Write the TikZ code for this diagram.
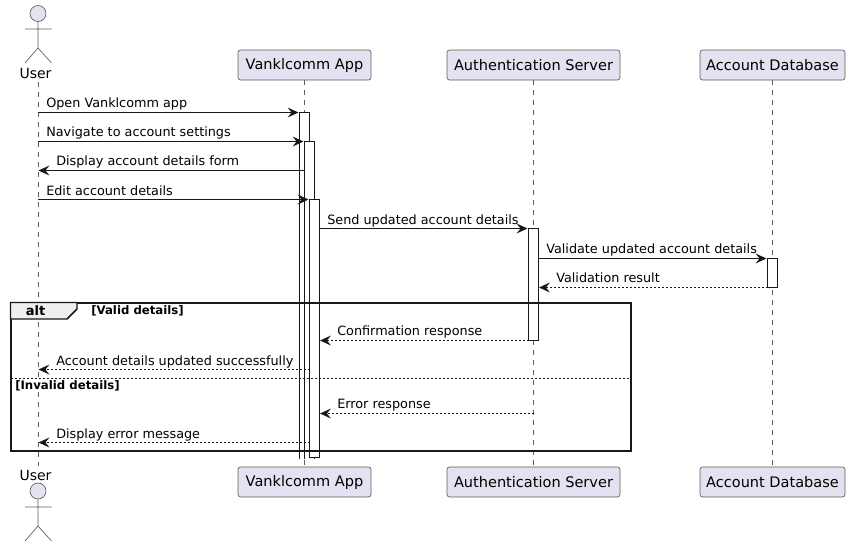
\documentclass[tikz,border=0pt]{standalone}
\usepackage{fontspec}
\usepackage{xcolor}
\usepackage{tikz}
\usetikzlibrary{arrows.meta}
\setmainfont{DejaVu Sans}
\definecolor{headfill}{HTML}{E2E2F0}
\definecolor{inkline}{HTML}{181818}
\definecolor{tabfill}{HTML}{EEEEEE}
\tikzset{
	headbox/.style={draw=inkline!70,fill=headfill,rounded corners=1.9pt,line width=0.5pt,minimum height=22.5pt,inner sep=0pt,text=black,font=\fontsize{10.9}{14}\selectfont},
	actorname/.style={font=\fontsize{10.5}{12}\selectfont,inner sep=0pt,text=black},
	msglabel/.style={anchor=base west,font=\fontsize{9.6}{12}\selectfont,inner sep=0pt,text=black},
	grouplabel/.style={anchor=base west,font=\fontsize{8.8}{10}\selectfont\bfseries,inner sep=0pt,text=black},
	lifeline/.style={draw=inkline!70,line width=0.4pt,dash pattern=on 3.75pt off 3.75pt},
	activation/.style={draw=inkline,fill=white,line width=0.75pt},
	stickman/.style={draw=inkline!70,line width=0.5pt},
	msg/.style={draw=inkline,line width=0.75pt,-{Stealth[length=8.2pt,width=7.5pt,inset=3pt,line width=0pt]}},
	reply/.style={msg,dash pattern=on 1.5pt off 1.5pt},
}
\begin{document}
\begin{tikzpicture}[x=0.75pt,y=-0.75pt]
	\useasboundingbox (0,0) rectangle (850,547);
	% participants
	\node[headbox,minimum width=99.75pt] (appTop) at (304.5,65) {Vanklcomm App};
	\node[headbox,minimum width=129.75pt] (authTop) at (533.5,65) {Authentication Server};
	\node[headbox,minimum width=108.75pt] (dbTop) at (772.5,65) {Account Database};
	\node[headbox,minimum width=99.75pt] (appBot) at (304.5,482) {Vanklcomm App};
	\node[headbox,minimum width=129.75pt] (authBot) at (533.5,482) {Authentication Server};
	\node[headbox,minimum width=108.75pt] (dbBot) at (772.5,482) {Account Database};
	\node[actorname] (userTop) at (35.5,73) {User};
	\node[actorname] (userBot) at (35.5,475) {User};
	% lifelines
	\coordinate (userA) at (38,82);
	\coordinate (userB) at (38,466);
	\draw[lifeline] (userA) -- (userB);
	\draw[lifeline] (appTop.south) -- (appBot.north);
	\draw[lifeline] (authTop.south) -- (authBot.north);
	\draw[lifeline] (dbTop.south) -- (dbBot.north);
	% actors
	\draw[stickman,fill=headfill] (38,13.5) circle (8);
	\draw[stickman] (38,21.5) -- (38,48) (25,29) -- (51.5,29) (25,63) -- (38,48) -- (51.5,63);
	\draw[stickman,fill=headfill] (38,491) circle (8);
	\draw[stickman] (38,499) -- (38,526) (25,507) -- (51.5,507) (25,541) -- (38,526) -- (51.5,541);
	% activations
	\draw[activation] (299.5,459) -- (299.5,112.5) -- (309.5,112.5) -- (309.5,459);
	\draw[activation] (304.5,459) -- (304.5,141.5) -- (314.5,141.5) -- (314.5,459);
	\draw[activation] (309.5,199.5) rectangle (319.5,457.5);
	\draw[activation] (528.5,228.5) rectangle (538.5,340.5);
	\draw[activation] (767.5,258.5) rectangle (777.5,287.5);
	% alt frame
	\draw[draw=inkline,line width=1.5pt] (10.5,302.5) rectangle (631,451);
	\draw[draw=inkline,fill=tabfill,line width=1.1pt] (10.5,302.5) -- (77,302.5) -- (77,309) -- (67,319) -- (10.5,319) -- cycle;
	\draw[draw=inkline,line width=0.5pt,dash pattern=on 1.5pt off 1.5pt] (10.5,378.5) -- (631,378.5);
	\node[anchor=base,font=\fontsize{9.75}{12}\selectfont\bfseries,inner sep=0pt] (altTag) at (35.5,315) {alt};
	\node[grouplabel] (validTag) at (91,314) {[Valid details]};
	\node[grouplabel] (invalidTag) at (15,389) {[Invalid details]};
	% message ends
	\coordinate (u1) at (38,112.5);
	\coordinate (a1) at (298.5,112.5);
	\coordinate (u2) at (38,141.5);
	\coordinate (a2) at (303.5,141.5);
	\coordinate (u3) at (38.5,170.5);
	\coordinate (a3) at (304.5,170.5);
	\coordinate (u4) at (38,199.5);
	\coordinate (a4) at (308.5,199.5);
	\coordinate (a5) at (319.5,228.5);
	\coordinate (s5) at (527.5,228.5);
	\coordinate (s6) at (538.5,258.5);
	\coordinate (d6) at (766.5,258.5);
	\coordinate (d7) at (767.5,287.5);
	\coordinate (s7) at (539,287.5);
	\coordinate (s8) at (528.5,340.5);
	\coordinate (a8) at (320,340.5);
	\coordinate (a9) at (309.5,369.5);
	\coordinate (u9) at (38.5,369.5);
	\coordinate (s10) at (533.5,413.5);
	\coordinate (a10) at (320,413.5);
	\coordinate (a11) at (309.5,442.5);
	\coordinate (u11) at (38.5,442.5);
	% messages
	\draw[msg] (u1) -- (a1);
	\draw[msg] (u2) -- (a2);
	\draw[msg] (a3) -- (u3);
	\draw[msg] (u4) -- (a4);
	\draw[msg] (a5) -- (s5);
	\draw[msg] (s6) -- (d6);
	\draw[reply] (d7) -- (s7);
	\draw[reply] (s8) -- (a8);
	\draw[reply] (a9) -- (u9);
	\draw[reply] (s10) -- (a10);
	\draw[reply] (a11) -- (u11);
	% message labels
	\node[msglabel] (m1) at (46,107) {Open Vanklcomm app};
	\node[msglabel] (m2) at (46,136) {Navigate to account settings};
	\node[msglabel] (m3) at (56,165) {Display account details form};
	\node[msglabel] (m4) at (46,195) {Edit account details};
	\node[msglabel] (m5) at (327,224) {Send updated account details};
	\node[msglabel] (m6) at (546,253) {Validate updated account details};
	\node[msglabel] (m7) at (556,282) {Validation result};
	\node[msglabel] (m8) at (337,335) {Confirmation response};
	\node[msglabel] (m9) at (56,365) {Account details updated successfully};
	\node[msglabel] (m10) at (337,408) {Error response};
	\node[msglabel] (m11) at (56,438) {Display error message};
\end{tikzpicture}
\end{document}
